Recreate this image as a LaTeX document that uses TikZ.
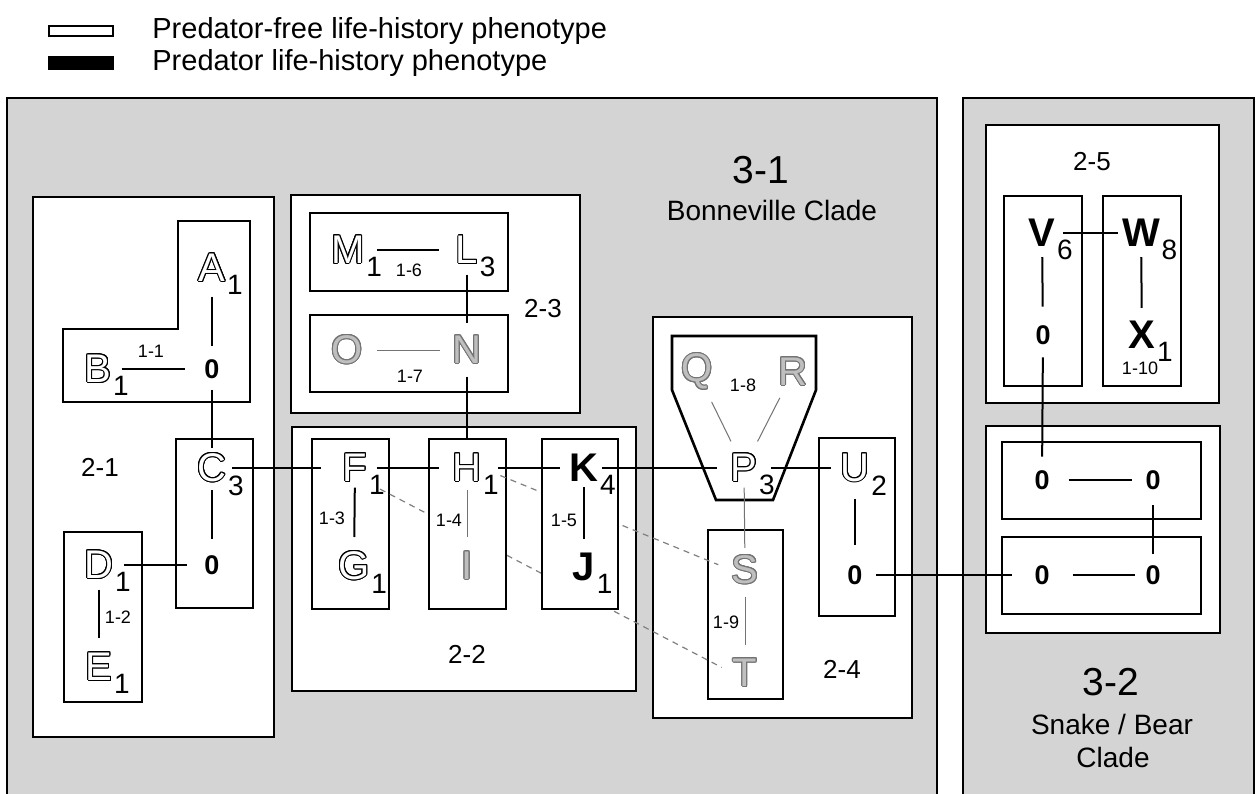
\documentclass[tikz,border=0pt]{standalone}
\usepackage{fontspec}
\setmainfont{Liberation Sans}
\usepackage[copies]{contour}
\contourlength{0.45pt}
\usetikzlibrary{positioning}

\pgfdeclarelayer{boxes}
\pgfdeclarelayer{trailA}
\pgfdeclarelayer{boxH}
\pgfdeclarelayer{trailB}
\pgfdeclarelayer{boxK}
\pgfsetlayers{boxes,trailA,boxH,trailB,boxK,main}

\newcommand{\taxfont}{\fontsize{20}{20}\selectfont}
\newcommand{\boldtaxfont}{\fontsize{20}{20}\selectfont\bfseries}
\newcommand{\idxfont}{\fontsize{14}{14}\selectfont}
\newcommand{\zerofont}{\fontsize{13.5}{13.5}\selectfont\bfseries}
\newcommand{\pairfont}{\fontsize{9}{9}\selectfont}
\newcommand{\groupfont}{\fontsize{13}{13}\selectfont}
\newcommand{\cladefont}{\fontsize{19.5}{19.5}\selectfont}
\newcommand{\namefont}{\fontsize{14}{14}\selectfont}
\newcommand{\keyfont}{\fontsize{14.5}{14.5}\selectfont}

\newcommand{\hol}[1]{\textcolor{white}{\contour{black}{#1}}}
\newcommand{\gry}[1]{\textcolor{black!25}{\contour{black!55}{#1}}}

\begin{document}
\begin{tikzpicture}[x=0.5pt, y=-0.5pt,
  clade/.style={draw, line width=1.3pt, fill=black!17},
  group/.style={draw, line width=1.3pt, fill=white},
  tax/.style={inner sep=0pt, font=\taxfont},
  boldtax/.style={inner sep=0pt, font=\boldtaxfont},
  zero/.style={inner sep=0pt, font=\zerofont},
  idx/.style={label={[inner sep=0pt, font=\idxfont, anchor=north west, xshift=0.5pt, yshift=3.8pt]south east:#1}},
  pair/.style={inner sep=0pt, font=\pairfont},
  grp/.style={inner sep=0pt, font=\groupfont},
  swatch/.style={draw, line width=1pt, minimum width=32pt, minimum height=5pt, inner sep=0pt},
  link/.style={line width=1pt},
  faint/.style={line width=0.5pt, black!55},
  trail/.style={line width=0.6pt, black!50, dash pattern=on 3pt off 2.5pt}]

  \useasboundingbox (0,0) rectangle (1259,793);

  % Key
  \node[anchor=west, inner sep=0pt, font=\keyfont] (keyfree) at (152,31) {Predator-free life-history phenotype};
  \node[anchor=west, inner sep=0pt, font=\keyfont] (keypred) at (152,63) {Predator life-history phenotype};
  \node[swatch, fill=white, left=19pt of keyfree] (swfree) {};
  \node[swatch, fill=black, minimum height=6pt, left=19pt of keypred] (swpred) {};

  % Clade titles
  \node[inner sep=0pt, font=\cladefont] (c31) at (761,170) {3-1};
  \node[inner sep=0pt, font=\namefont] (c31name) at (772,210) {Bonneville Clade};
  \node[inner sep=0pt, font=\cladefont] (c32) at (1111,682) {3-2};
  \node[inner sep=0pt, font=\namefont] (c32name) at (1112,724) {Snake / Bear};
  \node[inner sep=0pt, font=\namefont] (c32clade) at (1113,757) {Clade};

  % Group labels
  \node[grp] (g21) at (100,467) {2-1};
  \node[grp] (g22) at (467,654) {2-2};
  \node[grp] (g23) at (543,309) {2-3};
  \node[grp] (g24) at (842,669) {2-4};
  \node[grp] (g25) at (1092,162) {2-5};

  % Pair labels
  \node[pair] (p11) at (151,351) {1-1};
  \node[pair] (p12) at (118,617) {1-2};
  \node[pair] (p13) at (332,518) {1-3};
  \node[pair] (p14) at (449,520) {1-4};
  \node[pair] (p15) at (564,520) {1-5};
  \node[pair] (p16) at (409,270) {1-6};
  \node[pair] (p17) at (410,376) {1-7};
  \node[pair] (p18) at (743,385) {1-8};
  \node[pair] (p19) at (726,622) {1-9};
  \node[pair] (p110) at (1140,368) {1-10};

  % Predator-free populations
  \node[tax, idx=1] (A) at (212,268) {\hol{A}};
  \node[tax, idx=1] (B) at (98,369) {\hol{B}};
  \node[tax, idx=3] (C) at (212,468) {\hol{C}};
  \node[tax, idx=1] (D) at (99,565) {\hol{D}};
  \node[tax, idx=1] (E) at (99,667) {\hol{E}};
  \node[tax, idx=1] (F) at (355,468) {\hol{F}};
  \node[tax, idx=1] (G) at (354,566) {\hol{G}};
  \node[tax, idx=1] (H) at (467,468) {\hol{H}};
  \node[tax, idx=1] (M) at (348,250) {\hol{M}};
  \node[tax, idx=3] (L) at (467,250) {\hol{L}};
  \node[tax, idx=3] (P) at (744,468) {\hol{P}};
  \node[tax, idx=2] (U) at (855,468) {\hol{U}};

  % Unscored populations
  \node[tax] (O) at (347,350) {\gry{O}};
  \node[tax] (N) at (467,350) {\gry{N}};
  \node[tax] (I) at (467,566) {\gry{I}};
  \node[tax] (Q) at (697,372) {\gry{Q}};
  \node[tax] (R) at (793,372) {\gry{R}};
  \node[tax] (S) at (745,570) {\gry{S}};
  \node[tax] (T) at (745,673) {\gry{T}};

  % Predator populations
  \node[boldtax, idx=4] (K) at (584,468) {K};
  \node[boldtax, idx=1] (J) at (584,567) {J};
  \node[boldtax, idx=6] (V) at (1042,233) {V};
  \node[boldtax, idx=8] (W) at (1141,233) {W};
  \node[boldtax, idx=1] (X) at (1142,335) {X};

  % Empty nodes
  \node[zero] (za) at (212,369) {0};
  \node[zero] (zc) at (212,565) {0};
  \node[zero] (zu) at (855,575) {0};
  \node[zero] (zv) at (1043,335) {0};
  \node[zero] (ra) at (1042,480) {0};
  \node[zero] (rb) at (1153,480) {0};
  \node[zero] (sa) at (1042,575) {0};
  \node[zero] (sb) at (1153,575) {0};

  \begin{pgfonlayer}{boxes}
    % clades
    \draw[clade] (7,98) rectangle (937,812);
    \draw[clade] (963,98) rectangle (1254,812);
    % groups
    \draw[group] (33,197) rectangle (274,737);
    \draw[group] (291,195) rectangle (580,413);
    \draw[group] (292,427) rectangle (636,691);
    \draw[group] (653,317) rectangle (912,718);
    \draw[group] (986,125) rectangle (1219,403);
    \draw[group] (986,426) rectangle (1220,633);
    % units
    \draw[group] (178,221) -- (250,221) -- (250,402) -- (63,402) -- (63,329) -- (178,329) -- cycle;
    \draw[group] (176,439) rectangle (253,608);
    \draw[group] (64,532) rectangle (142,702);
    \draw[group] (310,213) rectangle (508,291);
    \draw[group] (310,315) rectangle (508,392);
    \draw[group] (312,439) rectangle (389,609);
    \draw[group] (672,336) -- (816,336) -- (816,390) -- (773,500) -- (716,500) -- (672,390) -- cycle;
    \draw[group] (708,530) rectangle (783,699);
    \draw[group] (819,438) rectangle (895,616);
    \draw[group] (1004,196) rectangle (1082,386);
    \draw[group] (1103,196) rectangle (1181,386);
    \draw[group] (1002,442) rectangle (1201,519);
    \draw[group] (1002,537) rectangle (1201,614);
  \end{pgfonlayer}

  \begin{pgfonlayer}{trailA}
    \draw[trail, shorten <=7pt, shorten >=6pt] (F.south east) -- (T.west);
  \end{pgfonlayer}
  \begin{pgfonlayer}{boxH}
    \draw[group] (429,439) rectangle (506,609);
  \end{pgfonlayer}
  \begin{pgfonlayer}{trailB}
    \draw[trail, shorten <=10pt, shorten >=7pt] (H.east) -- (S.west);
  \end{pgfonlayer}
  \begin{pgfonlayer}{boxK}
    \draw[group] (542,439) rectangle (618,609);
  \end{pgfonlayer}

  % Solid connectors
  \draw[link, shorten <=7pt, shorten >=6.5pt] (A) -- (za);
  \draw[link, shorten <=5pt, shorten >=9.5pt] (B) -- (za);
  \draw[link, shorten <=5.5pt, shorten >=2.5pt] (za) -- (C);
  \draw[link, shorten <=3.5pt, shorten >=8pt] (C) -- (zc);
  \draw[link, shorten <=5pt, shorten >=8.5pt] (D) -- (zc);
  \draw[link, shorten <=5pt, shorten >=7pt] (D) -- (E);
  \draw[link, shorten <=2.5pt, shorten >=10.5pt] (C) -- (F);
  \draw[link, shorten <=4.5pt, shorten >=6.5pt] (F) -- (H);
  \draw[link, shorten <=8pt, shorten >=4.5pt] (H) -- (K);
  \draw[link, shorten <=1.5pt, shorten >=6.5pt] (K) -- (P);
  \draw[link, shorten <=6.5pt, shorten >=4.5pt] (P) -- (U);
  \draw[link, shorten <=2.5pt, shorten >=7pt] (F) -- (G);
  \draw[link, shorten <=2.5pt, shorten >=7pt] (K) -- (J);
  \draw[link, shorten <=6pt, shorten >=8pt] (M) -- (L);
  \draw[link, shorten <=5pt, shorten >=6pt] (L) -- (N);
  \draw[link, shorten <=6pt, shorten >=7.5pt] (N) -- (H);
  \draw[link, shorten <=8pt, shorten >=10.25pt] (U) -- (zu);
  \draw[link, shorten <=6.3pt, shorten >=11.3pt] (zu) -- (sa);
  \draw[link, shorten <=11.3pt, shorten >=5.3pt] (sa) -- (sb);
  \draw[link, shorten <=9.3pt, shorten >=6.8pt] (ra) -- (rb);
  \draw[link, shorten <=7.75pt, shorten >=5.75pt] (rb) -- (sb);
  \draw[link, shorten <=6.25pt, shorten >=6.75pt] (zv) -- (ra);
  \draw[link, shorten <=5pt, shorten >=9.25pt] (V) -- (zv);
  \draw[link, shorten <=3.8pt, shorten >=2pt] (V) -- (W);
  \draw[link, shorten <=5pt, shorten >=6.5pt] (W) -- (X);

  % Faint connectors
  \draw[faint, shorten <=7pt, shorten >=6pt] (O) -- (N);
  \draw[faint, shorten <=3.5pt, shorten >=7pt] (H) -- (I);
  \draw[faint, shorten <=6.3pt, shorten >=6.7pt] (Q) -- (P);
  \draw[faint, shorten <=6.3pt, shorten >=6.7pt] (R) -- (P);
  \draw[faint, shorten <=2.5pt, shorten >=3.5pt] (P) -- (S);
  \draw[faint, shorten <=6pt, shorten >=6.5pt] (S) -- (T);

\end{tikzpicture}
\end{document}
